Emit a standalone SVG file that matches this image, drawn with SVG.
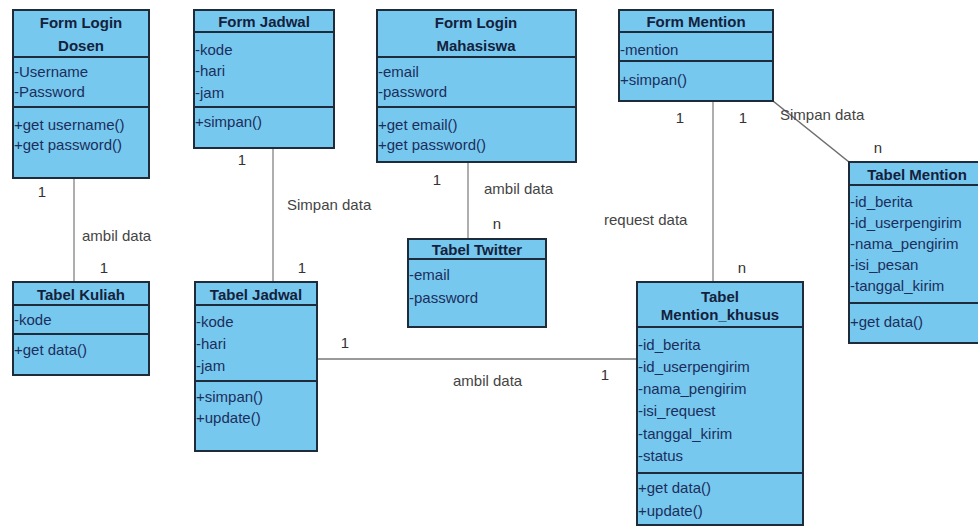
<svg xmlns="http://www.w3.org/2000/svg" width="978" height="527" viewBox="0 0 978 527">
<style>
.box{fill:#76C8EE;stroke:#1D2B3A;stroke-width:2}
.sep{stroke:#1D2B3A;stroke-width:2}
.t{font-family:"Liberation Sans",Arial,sans-serif;font-size:15px;fill:#1C2E5C}
.h{font-family:"Liberation Sans",Arial,sans-serif;font-size:15px;font-weight:bold;fill:#14213D;text-anchor:middle}
.lbl{font-family:"Liberation Sans",Arial,sans-serif;font-size:15px;fill:#444}
.m{font-family:"Liberation Sans",Arial,sans-serif;font-size:15px;fill:#333;text-anchor:middle}
.c{stroke:#9A9A9A;stroke-width:1.6;fill:none}
</style>
<rect width="978" height="527" fill="#fff"/>
<g id="connectors">
<line class="c" x1="74" y1="178" x2="74" y2="282"/>
<line class="c" x1="273" y1="148" x2="273" y2="282"/>
<line class="c" x1="468" y1="162" x2="468" y2="239"/>
<line class="c" x1="713" y1="101" x2="713" y2="282"/>
<line class="c" x1="773" y1="101" x2="849" y2="162" style="stroke:#6E6E6E"/>
<line class="c" x1="317" y1="359" x2="637" y2="359" style="stroke:#777"/>
<text class="m" x="42" y="197">1</text>
<text class="lbl" x="82" y="241">ambil data</text>
<text class="m" x="104" y="273">1</text>
<text class="m" x="242" y="165">1</text>
<text class="lbl" x="287" y="210">Simpan data</text>
<text class="m" x="302" y="273">1</text>
<text class="m" x="437" y="185">1</text>
<text class="lbl" x="484" y="194">ambil data</text>
<text class="m" x="497" y="229">n</text>
<text class="lbl" x="604" y="225">request data</text>
<text class="m" x="742" y="273">n</text>
<text class="m" x="680" y="123">1</text>
<text class="m" x="743" y="123">1</text>
<text class="lbl" x="780" y="120">Simpan data</text>
<text class="m" x="878" y="153">n</text>
<text class="m" x="345" y="348">1</text>
<text class="lbl" x="453" y="386">ambil data</text>
<text class="m" x="605" y="380">1</text>
</g>
<g id="form-login-dosen">
<rect class="box" x="13" y="10" width="136" height="168"/>
<line class="sep" x1="13" y1="57" x2="149" y2="57"/>
<line class="sep" x1="13" y1="107" x2="149" y2="107"/>
<text class="h" x="81" y="28">Form Login</text>
<text class="h" x="81" y="51">Dosen</text>
<text class="t" x="14" y="77">-Username</text>
<text class="t" x="14" y="97">-Password</text>
<text class="t" x="14" y="130">+get username()</text>
<text class="t" x="14" y="150">+get password()</text>
</g>
<g id="form-jadwal">
<rect class="box" x="194" y="10" width="140" height="138"/>
<line class="sep" x1="194" y1="32" x2="334" y2="32"/>
<line class="sep" x1="194" y1="107" x2="334" y2="107"/>
<text class="h" x="264" y="27">Form Jadwal</text>
<text class="t" x="195" y="55">-kode</text>
<text class="t" x="195" y="76">-hari</text>
<text class="t" x="195" y="98">-jam</text>
<text class="t" x="195" y="127">+simpan()</text>
</g>
<g id="form-login-mahasiswa">
<rect class="box" x="377" y="10" width="199" height="152"/>
<line class="sep" x1="377" y1="57" x2="576" y2="57"/>
<line class="sep" x1="377" y1="107" x2="576" y2="107"/>
<text class="h" x="476" y="28">Form Login</text>
<text class="h" x="476" y="51">Mahasiswa</text>
<text class="t" x="378" y="77">-email</text>
<text class="t" x="378" y="97">-password</text>
<text class="t" x="378" y="130">+get email()</text>
<text class="t" x="378" y="150">+get password()</text>
</g>
<g id="form-mention">
<rect class="box" x="619" y="10" width="154" height="91"/>
<line class="sep" x1="619" y1="32" x2="773" y2="32"/>
<line class="sep" x1="619" y1="61" x2="773" y2="61"/>
<text class="h" x="696" y="27">Form Mention</text>
<text class="t" x="620" y="55">-mention</text>
<text class="t" x="620" y="85">+simpan()</text>
</g>
<g id="tabel-kuliah">
<rect class="box" x="13" y="282" width="136" height="93"/>
<line class="sep" x1="13" y1="305" x2="149" y2="305"/>
<line class="sep" x1="13" y1="334" x2="149" y2="334"/>
<text class="h" x="81" y="300">Tabel Kuliah</text>
<text class="t" x="14" y="325">-kode</text>
<text class="t" x="14" y="355">+get data()</text>
</g>
<g id="tabel-jadwal">
<rect class="box" x="195" y="282" width="122" height="169"/>
<line class="sep" x1="195" y1="305" x2="317" y2="305"/>
<line class="sep" x1="195" y1="381" x2="317" y2="381"/>
<text class="h" x="256" y="300">Tabel Jadwal</text>
<text class="t" x="196" y="327">-kode</text>
<text class="t" x="196" y="349">-hari</text>
<text class="t" x="196" y="371">-jam</text>
<text class="t" x="196" y="402">+simpan()</text>
<text class="t" x="196" y="423">+update()</text>
</g>
<g id="tabel-twitter">
<rect class="box" x="408" y="239" width="138" height="88"/>
<line class="sep" x1="408" y1="259" x2="546" y2="259"/>
<text class="h" x="477" y="255">Tabel Twitter</text>
<text class="t" x="409" y="280">-email</text>
<text class="t" x="409" y="303">-password</text>
</g>
<g id="tabel-mention">
<rect class="box" x="849" y="162" width="136" height="181"/>
<line class="sep" x1="849" y1="185" x2="985" y2="185"/>
<line class="sep" x1="849" y1="303" x2="985" y2="303"/>
<text class="h" x="917" y="180">Tabel Mention</text>
<text class="t" x="850" y="207">-id_berita</text>
<text class="t" x="850" y="228">-id_userpengirim</text>
<text class="t" x="850" y="249">-nama_pengirim</text>
<text class="t" x="850" y="270">-isi_pesan</text>
<text class="t" x="850" y="291">-tanggal_kirim</text>
<text class="t" x="850" y="327">+get data()</text>
</g>
<g id="tabel-mention-khusus">
<rect class="box" x="637" y="282" width="166" height="243"/>
<line class="sep" x1="637" y1="327" x2="803" y2="327"/>
<line class="sep" x1="637" y1="473" x2="803" y2="473"/>
<text class="h" x="720" y="302">Tabel</text>
<text class="h" x="720" y="320">Mention_khusus</text>
<text class="t" x="638" y="350">-id_berita</text>
<text class="t" x="638" y="372">-id_userpengirim</text>
<text class="t" x="638" y="394">-nama_pengirim</text>
<text class="t" x="638" y="416">-isi_request</text>
<text class="t" x="638" y="439">-tanggal_kirim</text>
<text class="t" x="638" y="461">-status</text>
<text class="t" x="638" y="493">+get data()</text>
<text class="t" x="638" y="516">+update()</text>
</g>
</svg>
